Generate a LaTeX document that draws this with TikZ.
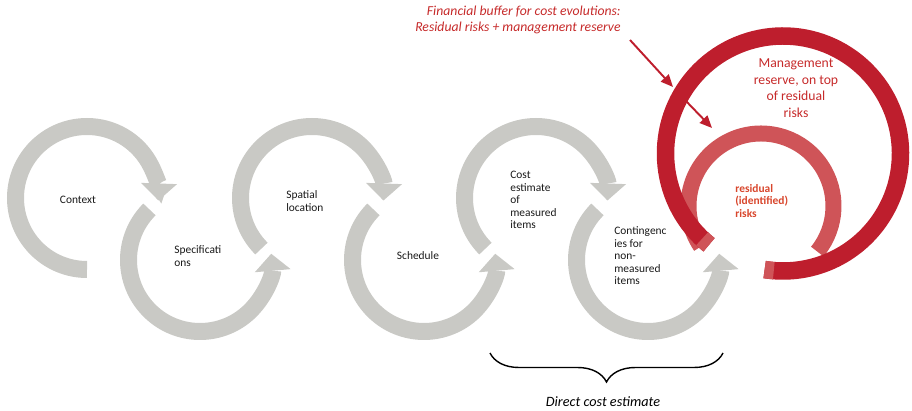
\documentclass[tikz,border=0pt]{standalone}
\usepackage{fontspec}
\setmainfont{Carlito}
\usetikzlibrary{arrows.meta,decorations.pathreplacing}

\definecolor{loopgray}{HTML}{C9C9C5}
\definecolor{reservered}{HTML}{BE1E2D}
\definecolor{riskred}{HTML}{CF5458}
\definecolor{textred}{HTML}{C62A2A}
\definecolor{riskorange}{HTML}{D8462C}

\tikzset{
  looparc/.style={draw=loopgray, line width=0.34cm,
    -{Triangle[width=0.72cm,length=0.34cm,line width=0pt]}},
  ringarc/.style={line width=0.35cm},
  steplabel/.style={font=\fontsize{6.5}{7.1}\selectfont, text=black!90,
    align=left, inner sep=0pt},
  redlabel/.style={text=textred, inner sep=0pt},
  redarrow/.style={draw=reservered, line width=1.1pt,
    -{Triangle[width=6pt,length=7pt]}},
}

\begin{document}
\begin{tikzpicture}[x=0.02cm,y=-0.02cm]
  \useasboundingbox (0,0) rectangle (912,411);

  % centres of the six steps
  \coordinate (c1) at (87,198);
  \coordinate (c2) at (200,260);
  \coordinate (c3) at (312,198);
  \coordinate (c4) at (424,260);
  \coordinate (c5) at (536,198);
  \coordinate (c6) at (648,260);

  \draw[looparc] (c1) ++(90:71.5) arc[start angle=90, end angle=362, radius=71.5];
  \draw[looparc] (c2) ++(225:71.5) arc[start angle=225, end angle=-5, radius=71.5];
  \draw[looparc] (c3) ++(135:71.5) arc[start angle=135, end angle=362, radius=71.5];
  \draw[looparc] (c4) ++(225:71.5) arc[start angle=225, end angle=-5, radius=71.5];
  \draw[looparc] (c5) ++(135:71.5) arc[start angle=135, end angle=362, radius=71.5];
  \draw[looparc] (c6) ++(225:71.5) arc[start angle=225, end angle=-5, radius=71.5];

  \node[steplabel] (context) at (78,200) {Context};
  \node[steplabel, anchor=west] (spec) at (174,256) {Specificati\\ons};
  \node[steplabel, anchor=west] (spatial) at (286,201) {Spatial\\location};
  \node[steplabel] (schedule) at (418,256) {Schedule};
  \node[steplabel, anchor=west] (measured) at (510,200) {Cost\\estimate\\of\\measured\\items};
  \node[steplabel, anchor=west] (contingency) at (614,256) {Contingenc\\ies for\\non-\\measured\\items};

  % residual risk ring under the reserve ring
  \coordinate (reserve) at (783,153.5);
  \coordinate (residual) at (761,206);
  \draw[ringarc, riskred, line width=0.32cm] (residual) ++(146:72.5) arc[start angle=146, end angle=399, radius=72.5];
  \draw[ringarc, reservered] (reserve) ++(129:117.5) arc[start angle=129, end angle=459, radius=117.5];
  \draw[ringarc, riskred] (reserve) ++(129:117.5) arc[start angle=129, end angle=133.5, radius=117.5];
  \draw[ringarc, riskred] (reserve) ++(454.5:117.5) arc[start angle=454.5, end angle=459, radius=117.5];

  \node[redlabel, align=center, font=\fontsize{7.8}{9.4}\selectfont] (mgmt) at (796,88)
    {Management\\reserve, on top\\of residual\\risks};
  \node[inner sep=0pt, align=left, anchor=west, text=riskorange,
    font=\fontsize{6.5}{7.2}\selectfont\bfseries] (risks) at (735,201)
    {residual\\(identified)\\risks};

  \node[redlabel, align=right, anchor=east, font=\fontsize{7.8}{9}\selectfont\itshape] (buffer) at (621,20)
    {Financial buffer for cost evolutions:\\Residual risks + management reserve};

  \coordinate (bufferA) at (630,40);
  \coordinate (reserveTip) at (673,87);
  \coordinate (bufferB) at (685,100);
  \coordinate (riskTip) at (712,128);
  \draw[redarrow] (bufferA) -- (reserveTip);
  \draw[redarrow] (bufferB) -- (riskTip);

  % direct cost estimate
  \coordinate (braceR) at (723,353);
  \coordinate (braceL) at (490,353);
  \draw[decorate, decoration={brace, amplitude=0.58cm}, line width=0.8pt] (braceR) -- (braceL);
  \node[inner sep=0pt, font=\fontsize{8.1}{10}\selectfont\itshape] (direct) at (603,402) {Direct cost estimate};
\end{tikzpicture}
\end{document}
